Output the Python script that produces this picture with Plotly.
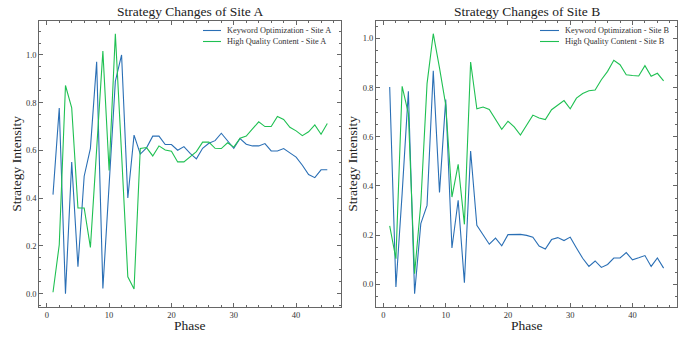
import plotly.graph_objects as go

phases = list(range(1, 46))

kw_a = [0.415, 0.778, 0.000, 0.551, 0.113, 0.492, 0.609, 0.971, 0.022, 0.460,
        0.890, 1.000, 0.401, 0.664, 0.585, 0.611, 0.660, 0.660, 0.625, 0.625,
        0.601, 0.616, 0.588, 0.565, 0.609, 0.630, 0.641, 0.672, 0.639, 0.609,
        0.650, 0.626, 0.619, 0.619, 0.629, 0.598, 0.598, 0.608, 0.590, 0.572,
        0.538, 0.499, 0.486, 0.519, 0.519]
hq_a = [0.006, 0.205, 0.872, 0.778, 0.359, 0.359, 0.194, 0.605, 1.016, 0.516,
        1.089, 0.585, 0.071, 0.020, 0.608, 0.612, 0.577, 0.619, 0.602, 0.597,
        0.552, 0.552, 0.572, 0.595, 0.635, 0.635, 0.609, 0.608, 0.632, 0.614,
        0.651, 0.660, 0.690, 0.720, 0.700, 0.700, 0.742, 0.730, 0.697, 0.682,
        0.662, 0.678, 0.707, 0.668, 0.713]
kw_b = [0.802, -0.011, 0.370, 0.785, -0.038, 0.247, 0.321, 0.868, 0.374, 0.751,
        0.148, 0.342, 0.007, 0.542, 0.240, 0.199, 0.163, 0.188, 0.157, 0.202,
        0.203, 0.203, 0.199, 0.192, 0.156, 0.144, 0.182, 0.190, 0.178, 0.192,
        0.148, 0.106, 0.073, 0.095, 0.069, 0.081, 0.107, 0.107, 0.129, 0.100,
        0.108, 0.117, 0.073, 0.107, 0.066]
hq_b = [0.238, 0.104, 0.805, 0.694, 0.043, 0.330, 0.816, 1.019, 0.880, 0.730,
        0.355, 0.488, 0.244, 0.904, 0.714, 0.721, 0.711, 0.671, 0.630, 0.663,
        0.640, 0.607, 0.650, 0.688, 0.676, 0.670, 0.710, 0.730, 0.747, 0.714,
        0.757, 0.776, 0.787, 0.790, 0.832, 0.866, 0.911, 0.893, 0.852, 0.849,
        0.847, 0.889, 0.846, 0.858, 0.827]

series_names_a = ["Keyword Optimization - Site A", "High Quality Content - Site A"]
series_names_b = ["Keyword Optimization - Site B", "High Quality Content - Site B"]

x_ticks = [0, 10, 20, 30, 40]
y_ticks = [0.0, 0.2, 0.4, 0.6, 0.8, 1.0]
y_tick_text = ["0.0", "0.2", "0.4", "0.6", "0.8", "1.0"]

BLUE = "#2a6fb5"
GREEN = "#1fc052"
FONT = "Liberation Serif"
W, H = 686, 337


def pad(vals, frac=0.05):
    lo, hi = min(vals), max(vals)
    d = (hi - lo) * frac
    return [lo - d, hi + d]


fig = go.Figure()
fig.add_trace(go.Scatter(x=phases, y=kw_a, mode="lines", name=series_names_a[0],
                         line=dict(color=BLUE, width=1.1), xaxis="x", yaxis="y"))
fig.add_trace(go.Scatter(x=phases, y=hq_a, mode="lines", name=series_names_a[1],
                         line=dict(color=GREEN, width=1.1), xaxis="x", yaxis="y"))
fig.add_trace(go.Scatter(x=phases, y=kw_b, mode="lines", name=series_names_b[0],
                         line=dict(color=BLUE, width=1.1), xaxis="x2", yaxis="y2"))
fig.add_trace(go.Scatter(x=phases, y=hq_b, mode="lines", name=series_names_b[1],
                         line=dict(color=GREEN, width=1.1), xaxis="x2", yaxis="y2"))

xr = pad(phases)
yd = [1 - 306.7 / H, 1 - 20.7 / H]
xd1 = [39.3 / W, 341 / W]
xd2 = [376 / W, 677.3 / W]

axis_common = dict(showline=True, linecolor="#666", linewidth=1, mirror="allticks",
                   ticks="inside", ticklen=4, tickwidth=0.8, tickcolor="#666",
                   showgrid=False, zeroline=False,
                   tickfont=dict(family=FONT, size=8.5, color="#333"))

xaxis_kw = dict(axis_common, range=xr, tickvals=x_ticks,
                minor=dict(ticks="inside", dtick=2, tick0=0, ticklen=2, tickcolor="#666", tickwidth=0.7))
yaxis_kw = dict(axis_common, tickvals=y_ticks, ticktext=y_tick_text,
                minor=dict(ticks="inside", dtick=0.05, tick0=0, ticklen=2, tickcolor="#666", tickwidth=0.7))

fig.update_layout(
    width=W, height=H,
    margin=dict(l=0, r=0, t=0, b=0),
    paper_bgcolor="white", plot_bgcolor="white",
    xaxis=dict(xaxis_kw, domain=xd1, anchor="y"),
    yaxis=dict(yaxis_kw, domain=yd, anchor="x", range=pad(kw_a + hq_a)),
    xaxis2=dict(xaxis_kw, domain=xd2, anchor="y2"),
    yaxis2=dict(yaxis_kw, domain=yd, anchor="x2", range=pad(kw_b + hq_b)),
    showlegend=False,
)

ann = []
shapes = []
for xc, title in [((xd1[0] + xd1[1]) / 2, "Strategy Changes of Site A"),
                  ((xd2[0] + xd2[1]) / 2, "Strategy Changes of Site B")]:
    ann.append(dict(text=title, x=xc, y=1 - 11.5 / H, xref="paper", yref="paper",
                    xanchor="center", yanchor="middle", showarrow=False,
                    font=dict(family=FONT, size=13.5, color="#222")))
    ann.append(dict(text="Phase", x=xc, y=1 - 325 / H, xref="paper", yref="paper",
                    xanchor="center", yanchor="middle", showarrow=False,
                    font=dict(family=FONT, size=13.5, color="#222")))
for xp in [17 / W, 353 / W]:
    ann.append(dict(text="Strategy Intensity", x=xp, y=(yd[0] + yd[1]) / 2, xref="paper", yref="paper",
                    xanchor="center", yanchor="middle", showarrow=False, textangle=-90,
                    font=dict(family=FONT, size=13.5, color="#222")))

# legends (upper right of each panel, no frame)
for (lx0, lx1, tx), names in [((203, 221, 225), series_names_a),
                              ((540, 559, 562.5), series_names_b)]:
    for row, (name, col) in enumerate(zip(names, [BLUE, GREEN])):
        yy = 1 - (30.5 + 11 * row) / H
        shapes.append(dict(type="line", xref="paper", yref="paper", x0=lx0 / W, x1=lx1 / W,
                           y0=yy, y1=yy, line=dict(color=col, width=1.1)))
        ann.append(dict(text=name, x=tx / W, y=yy, xref="paper", yref="paper",
                        xanchor="left", yanchor="middle", showarrow=False,
                        font=dict(family=FONT, size=8.3, color="#333")))

fig.update_layout(annotations=ann, shapes=shapes)

fig.write_html("out.html", config={"displayModeBar": False},
               post_script="document.body.style.margin='0';document.body.style.overflow='hidden';")
